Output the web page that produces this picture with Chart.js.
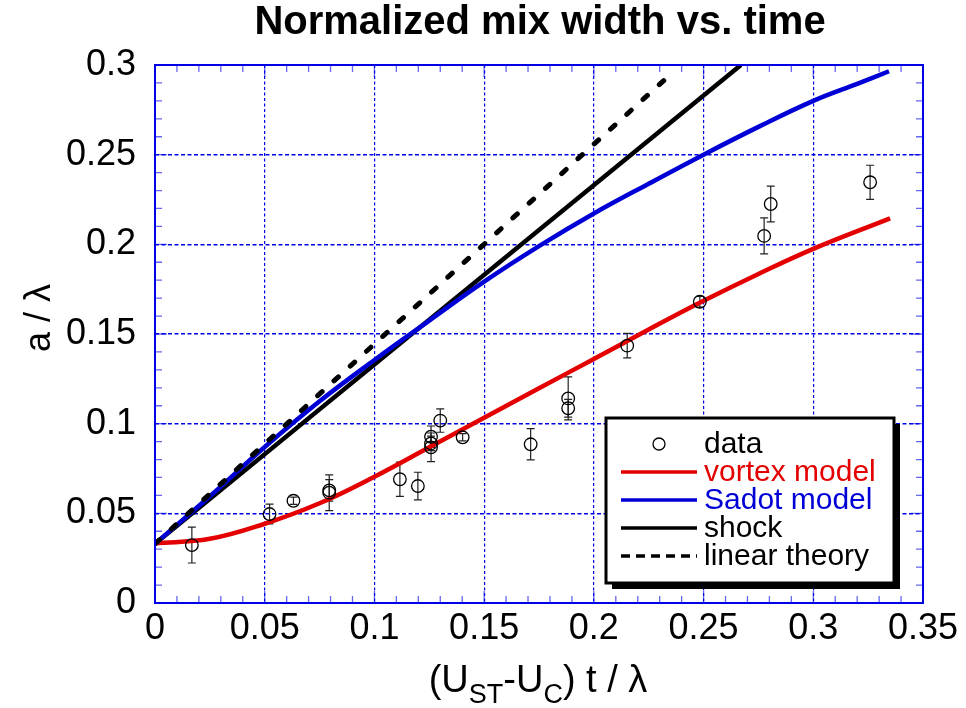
<!DOCTYPE html>
<html>
<head>
<meta charset="utf-8">
<script src="https://cdn.jsdelivr.net/npm/chart.js@4.4.1/dist/chart.umd.min.js"></script>
<style>
  html, body { margin: 0; padding: 0; background: #fff; }
</style>
</head>
<body>
<canvas id="mixChart" width="966" height="708"></canvas>
<script>
const dataX   = [0.0168, 0.0522, 0.0631, 0.0794, 0.0794, 0.1116, 0.1198, 0.1258, 0.1258, 0.1258, 0.1300, 0.1402, 0.1712, 0.1883, 0.1883, 0.2152, 0.2483, 0.2776, 0.2806, 0.3259];
const dataY   = [0.0323, 0.0496, 0.0570, 0.0615, 0.0628, 0.0690, 0.0652, 0.0927, 0.0890, 0.0868, 0.1017, 0.0924, 0.0885, 0.1141, 0.1086, 0.1435, 0.1680, 0.2047, 0.2225, 0.2346];
const dataErr = [0.0100, 0.0055, 0.0020, 0.0100, 0.0060, 0.0095, 0.0077, 0.0060, 0.0040, 0.0080, 0.0065, 0.0020, 0.0087, 0.0120, 0.0050, 0.0068, 0.0030, 0.0100, 0.0100, 0.0095];

// model curves
const vortexX = [0, 0.025, 0.05, 0.075, 0.1, 0.125, 0.15, 0.175, 0.2, 0.225, 0.25, 0.275, 0.3, 0.335];
const vortexY = [0.0333, 0.0358, 0.0442, 0.0556, 0.0704, 0.0868, 0.1033, 0.1198, 0.1360, 0.1525, 0.1685, 0.1835, 0.1975, 0.2145];
const sadotX  = [0, 0.025, 0.05, 0.075, 0.1, 0.125, 0.15, 0.175, 0.2, 0.225, 0.25, 0.275, 0.3, 0.32, 0.3345];
const sadotY  = [0.033, 0.0595, 0.0870, 0.1125, 0.1355, 0.1575, 0.1792, 0.1990, 0.2172, 0.2338, 0.2500, 0.2655, 0.2800, 0.2895, 0.2965];
const shockX  = [0, 0.267];
const shockY  = [0.033, 0.300];
const linearX = [0, 0.234];
const linearY = [0.033, 0.2937];

// axes
const xTicks = [0, 0.05, 0.1, 0.15, 0.2, 0.25, 0.3, 0.35];
const xTickLabels = ['0', '0.05', '0.1', '0.15', '0.2', '0.25', '0.3', '0.35'];
const yTicks = [0, 0.05, 0.1, 0.15, 0.2, 0.25, 0.3];
const yTickLabels = ['0', '0.05', '0.1', '0.15', '0.2', '0.25', '0.3'];
const legendLabels = ['data', 'vortex model', 'Sadot model', 'shock', 'linear theory'];

const FONT = "'Liberation Sans', Arial, Helvetica, sans-serif";
const RED = '#e40000';
const BLUE = '#0000d6';
const GRID = '#0000e6';

const zip = (xs, ys) => xs.map((x, i) => ({ x: x, y: ys[i] }));

// frame, inward ticks, labels, error bars and boxed legend
const decorPlugin = {
  id: 'decor',
  beforeDatasetsDraw(chart) {
    const { ctx, scales: { x, y } } = chart;
    ctx.save();
    ctx.strokeStyle = '#222';
    ctx.lineWidth = 1.2;
    dataX.forEach((v, i) => {
      const px = x.getPixelForValue(v);
      const top = y.getPixelForValue(dataY[i] + dataErr[i]);
      const bot = y.getPixelForValue(dataY[i] - dataErr[i]);
      ctx.beginPath();
      ctx.moveTo(px, top); ctx.lineTo(px, bot);
      ctx.moveTo(px - 4, top); ctx.lineTo(px + 4, top);
      ctx.moveTo(px - 4, bot); ctx.lineTo(px + 4, bot);
      ctx.stroke();
    });
    ctx.restore();
  },
  afterDraw(chart) {
    const { ctx, chartArea: a, scales: { x, y } } = chart;
    ctx.save();

    // minor / major ticks pointing inward, on all four sides
    ctx.strokeStyle = 'rgba(0,0,230,0.6)';
    ctx.lineWidth = 1.3;
    for (let k = 0; k <= 35; k++) {
      const px = x.getPixelForValue(k / 100);
      const len = k % 5 === 0 ? 12 : 7;
      ctx.beginPath();
      ctx.moveTo(px, a.bottom); ctx.lineTo(px, a.bottom - len);
      ctx.moveTo(px, a.top); ctx.lineTo(px, a.top + len);
      ctx.stroke();
    }
    for (let k = 0; k <= 30; k++) {
      const py = y.getPixelForValue(k / 100);
      const len = k % 5 === 0 ? 12 : 7;
      ctx.beginPath();
      ctx.moveTo(a.left, py); ctx.lineTo(a.left + len, py);
      ctx.moveTo(a.right, py); ctx.lineTo(a.right - len, py);
      ctx.stroke();
    }
    ctx.strokeStyle = GRID;
    ctx.lineWidth = 2;
    ctx.strokeRect(a.left, a.top, a.right - a.left, a.bottom - a.top);

    // tick labels
    ctx.fillStyle = '#000';
    ctx.font = `36px ${FONT}`;
    ctx.textAlign = 'center';
    ctx.textBaseline = 'middle';
    xTicks.forEach((v, i) => ctx.fillText(xTickLabels[i], x.getPixelForValue(v), a.bottom + 26));
    ctx.textAlign = 'right';
    yTicks.forEach((v, i) => ctx.fillText(yTickLabels[i], a.left - 19, y.getPixelForValue(v)));

    // title
    ctx.font = `bold 40px ${FONT}`;
    ctx.textAlign = 'center';
    ctx.fillText('Normalized mix width vs. time', 540, 23);

    // y title
    ctx.save();
    ctx.translate(40, 318);
    ctx.rotate(-Math.PI / 2);
    ctx.font = `36px ${FONT}`;
    ctx.fillText('a / λ', 0, 0);
    ctx.restore();

    // x title with subscripts
    const big = `38px ${FONT}`, small = `27px ${FONT}`;
    const parts = [['(U', big, 0], ['ST', small, 11], ['-U', big, 0], ['C', small, 11], [') t / λ', big, 0]];
    ctx.textAlign = 'left';
    ctx.textBaseline = 'alphabetic';
    let total = 0;
    parts.forEach(p => { ctx.font = p[1]; total += ctx.measureText(p[0]).width; });
    let cx = 538 - total / 2;
    parts.forEach(p => {
      ctx.font = p[1];
      ctx.fillText(p[0], cx, 692 + p[2]);
      cx += ctx.measureText(p[0]).width;
    });

    // legend box with drop shadow
    const bx = 606, by = 418, bw = 288, bh = 165;
    ctx.fillStyle = '#000';
    ctx.fillRect(bx + 6, by + 6, bw, bh);
    ctx.fillStyle = '#fff';
    ctx.fillRect(bx, by, bw, bh);
    ctx.strokeStyle = '#000';
    ctx.lineWidth = 3;
    ctx.strokeRect(bx, by, bw, bh);

    const ds = chart.data.datasets;
    ctx.font = `30px ${FONT}`;
    ctx.textBaseline = 'middle';
    legendLabels.forEach((label, i) => {
      const ry = 444 + i * 28;
      const d = ds[i];
      if (i === 0) {
        ctx.strokeStyle = '#000';
        ctx.lineWidth = 1.3;
        ctx.beginPath();
        ctx.arc(659, ry, 6, 0, Math.PI * 2);
        ctx.stroke();
      } else {
        ctx.strokeStyle = d.borderColor;
        ctx.lineWidth = 3.5;
        ctx.setLineDash(d.borderDash ? [9, 6] : []);
        ctx.beginPath();
        ctx.moveTo(621, ry); ctx.lineTo(697, ry);
        ctx.stroke();
        ctx.setLineDash([]);
      }
      ctx.fillStyle = i === 1 ? RED : i === 2 ? BLUE : '#000';
      ctx.fillText(label, 704, ry + 1);
    });

    ctx.restore();
  }
};

const ctx = document.getElementById('mixChart').getContext('2d');
const mixChart = new Chart(ctx, {
  type: 'scatter',
  data: {
    datasets: [
      {
        label: legendLabels[0],
        data: zip(dataX, dataY),
        pointStyle: 'circle',
        pointRadius: 6.3,
        pointBorderWidth: 1.3,
        borderColor: '#000',
        backgroundColor: 'rgba(0,0,0,0)',
        order: -2
      },
      {
        label: legendLabels[1],
        data: zip(vortexX, vortexY),
        showLine: true, pointRadius: 0,
        borderColor: RED, borderWidth: 4.5,
        tension: 0.4
      },
      {
        label: legendLabels[2],
        data: zip(sadotX, sadotY),
        showLine: true, pointRadius: 0,
        borderColor: BLUE, borderWidth: 4.5,
        tension: 0.4
      },
      {
        label: legendLabels[3],
        data: zip(shockX, shockY),
        showLine: true, pointRadius: 0,
        borderColor: '#000', borderWidth: 4.5
      },
      {
        label: legendLabels[4],
        data: zip(linearX, linearY),
        showLine: true, pointRadius: 0,
        borderColor: '#000', borderWidth: 5,
        borderDash: [6, 16], borderCapStyle: 'round',
        order: -1
      }
    ]
  },
  options: {
    responsive: false,
    animation: false,
    devicePixelRatio: 1,
    layout: { padding: { left: 155, right: 43, top: 65, bottom: 105 } },
    plugins: { legend: { display: false }, tooltip: { enabled: false } },
    scales: {
      x: {
        type: 'linear', min: 0, max: 0.35,
        afterFit: s => { s.height = 0; },
        ticks: { display: false, stepSize: 0.05 },
        grid: { color: GRID, lineWidth: 1.2, drawTicks: false },
        border: { display: false, dash: [3, 2.5] }
      },
      y: {
        type: 'linear', min: 0, max: 0.3,
        afterFit: s => { s.width = 0; },
        ticks: { display: false, stepSize: 0.05 },
        grid: { color: GRID, lineWidth: 1.6, drawTicks: false },
        border: { display: false, dash: [4, 2.5] }
      }
    }
  },
  plugins: [decorPlugin]
});
</script>
</body>
</html>
